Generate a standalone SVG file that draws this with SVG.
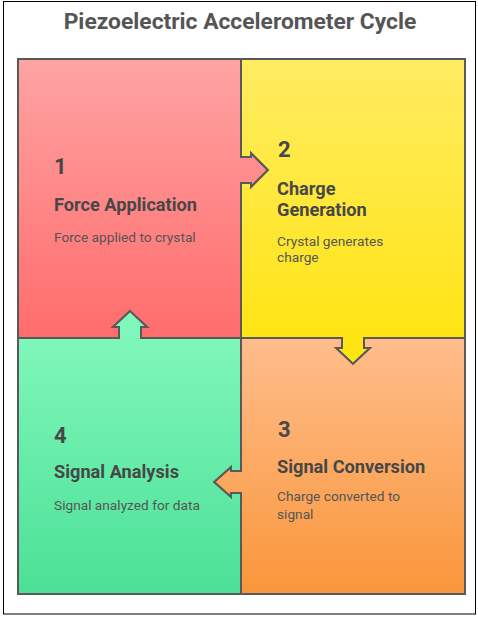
<svg xmlns="http://www.w3.org/2000/svg" width="478" height="620" viewBox="0 0 478 620">
<style>
  .piece { stroke: #595959; stroke-width: 2; stroke-linejoin: miter; }
  .num { font-family: Roboto, "Liberation Sans", sans-serif; font-weight: bold; font-size: 22px; fill: #474747; }
  .head { font-family: Roboto, "Liberation Sans", sans-serif; font-weight: bold; font-size: 18.2px; fill: #474747; }
  .desc { font-family: Roboto, "Liberation Sans", sans-serif; font-size: 13.7px; fill: #555555; }
  .title { font-family: Roboto, "Liberation Sans", sans-serif; font-weight: bold; font-size: 22.8px; fill: #555555; }
</style>
<defs>
  <linearGradient id="gRed" gradientUnits="userSpaceOnUse" x1="0" y1="59" x2="0" y2="338">
    <stop offset="0" stop-color="#FFA3A3"/><stop offset="1" stop-color="#FF6C6C"/>
  </linearGradient>
  <linearGradient id="gYellow" gradientUnits="userSpaceOnUse" x1="0" y1="59" x2="0" y2="338">
    <stop offset="0" stop-color="#FFEC62"/><stop offset="1" stop-color="#FFE414"/>
  </linearGradient>
  <linearGradient id="gOrange" gradientUnits="userSpaceOnUse" x1="0" y1="338" x2="0" y2="594">
    <stop offset="0" stop-color="#FFBD8C"/><stop offset="1" stop-color="#F9963A"/>
  </linearGradient>
  <linearGradient id="gGreen" gradientUnits="userSpaceOnUse" x1="0" y1="338" x2="0" y2="594">
    <stop offset="0" stop-color="#80F7BA"/><stop offset="1" stop-color="#4BE096"/>
  </linearGradient>
</defs>
<rect x="3.5" y="1.5" width="472" height="612.5" fill="#FFFFFF" stroke="#000000" stroke-width="1"/>
<text class="title" x="240" y="29" text-anchor="middle">Piezoelectric Accelerometer Cycle</text>
<g id="connectors"></g>
<g id="node1">
  <path class="piece" fill="url(#gRed)" d="M18,59 H241 V157 H251 V153 L268,170 L251,187 V183 H241 V338 H141 V327 H147 L130,311 L113,327 H119 V338 H18 Z"/>
  <text class="num" x="54" y="174">1</text>
  <text class="head" x="54" y="211">Force Application</text>
  <text class="desc" x="54" y="242">Force applied to crystal</text>
</g>
<g id="node2">
  <path class="piece" fill="url(#gYellow)" d="M241,59 H465 V338 H364 V348 H370 L353,364 L336,348 H342 V338 H241 V183 H251 V187 L268,170 L251,153 V157 H241 Z"/>
  <text class="num" x="278" y="157">2</text>
  <text class="head" x="277" y="195">Charge</text>
  <text class="head" x="277" y="216">Generation</text>
  <text class="desc" x="277" y="246">Crystal generates</text>
  <text class="desc" x="277" y="262">charge</text>
</g>
<g id="node3">
  <path class="piece" fill="url(#gOrange)" d="M241,338 H342 V348 H336 L353,364 L370,348 H364 V338 H465 V594 H241 V493 H231 V497 L214,482 L231,467 V471 H241 Z"/>
  <text class="num" x="278" y="437">3</text>
  <text class="head" x="277" y="473">Signal Conversion</text>
  <text class="desc" x="277" y="501">Charge converted to</text>
  <text class="desc" x="277" y="519">signal</text>
</g>
<g id="node4">
  <path class="piece" fill="url(#gGreen)" d="M18,338 H119 V327 H113 L130,311 L147,327 H141 V338 H241 V471 H231 V467 L214,482 L231,497 V493 H241 V594 H18 Z"/>
  <text class="num" x="54" y="443">4</text>
  <text class="head" x="54" y="478">Signal Analysis</text>
  <text class="desc" x="54" y="510">Signal analyzed for data</text>
</g>
</svg>
